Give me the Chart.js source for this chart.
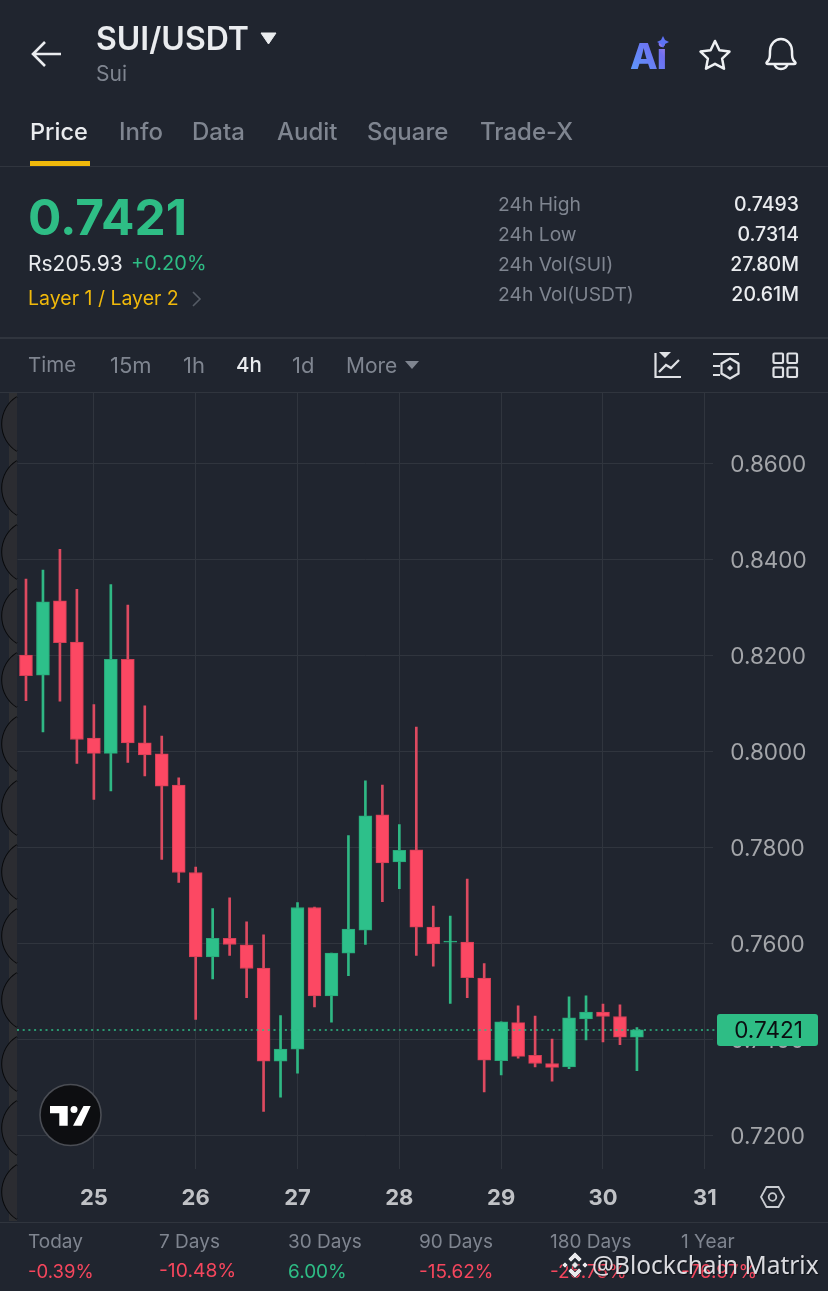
<!DOCTYPE html>
<html><head><meta charset="utf-8">
<script src="https://cdn.jsdelivr.net/npm/chart.js@4/dist/chart.umd.min.js"></script>
<style>
html,body{margin:0;padding:0;background:#20252f;width:828px;height:1291px;overflow:hidden}
body{position:relative;font-family:Inter,sans-serif}
canvas{position:absolute;left:0;top:0}
svg.layer{position:absolute;left:0;top:0;pointer-events:none}
.t{position:absolute;transform:translateY(-50%);white-space:nowrap;line-height:1}
.r{transform:translate(-100%,-50%)}
.g{color:#7f8590}.w{color:#eaecef}.up{color:#2ebd85}.dn{color:#f6465d}.y{color:#f0b90b}
.hr{position:absolute;left:0;width:828px;height:1px;background:#30353e}
</style></head><body>
<canvas id="c" width="828" height="1291"></canvas>
<svg class="layer" width="828" height="1291" viewBox="0 0 828 1291">
<defs><linearGradient id="ai" x1="0" y1="1" x2="1" y2="0"><stop offset="0" stop-color="#5aa0ff"/><stop offset=".7" stop-color="#6f6ff0"/><stop offset="1" stop-color="#c58ce0"/></linearGradient></defs>
<g id="scallops"></g>
<path d="M61 54H34M45 42L33 54L45 66" fill="none" stroke="#eaecef" stroke-width="2.6"/>
<path d="M261 33H276L268.500 44Z" fill="#eaecef" stroke="#eaecef" stroke-width="1" stroke-linejoin="round"/>
<text x="630" y="69" font-family="Inter" font-weight="800" font-size="36" fill="url(#ai)" letter-spacing="-1">Ai</text>
<path d="M663 36l2 4 4 2-4 2-2 4-2-4-4-2 4-2z" fill="#5d72f5"/>
<path d="M715 41l4.400 9.300 10.100 1.300-7.400 7 1.900 10.100-9-4.900-9 4.900 1.900-10.100-7.400-7 10.100-1.300z" fill="none" stroke="#eef0f3" stroke-width="2.500" stroke-linejoin="round"/>
<path d="M767 62c3-3 3-5 3-11a11 12 0 0 1 22 0c0 6 0 8 3 11c1 1 .5 2-1 2H768c-1.500 0-2-1-1-2zM774.500 64a6.500 5 0 0 0 13 0" fill="none" stroke="#eef0f3" stroke-width="2.500"/>
<path d="M193 292l7 7-7 7" fill="none" stroke="#555b65" stroke-width="1.600"/>
<path d="M405 361H419L412 369Z" fill="#7f8590"/>
<g fill="none" stroke="#dfe1e5" stroke-width="2.200">
<path d="M655.500 353V377H681"/><path d="M659 372l7-7 5 3 8-8"/>
<path d="M713 354H739M713 366H720M713 375H720"/>
<path d="M730 358.500l8.500 5v10l-8.500 5-8.500-5v-10z"/>
<rect x="773.500" y="353.500" width="9.500" height="9.500" rx="1"/><rect x="787.500" y="353.500" width="9.500" height="9.500" rx="1"/>
<rect x="773.500" y="367.500" width="9.500" height="9.500" rx="1"/><rect x="787.500" y="367.500" width="9.500" height="9.500" rx="1"/>
</g>
<path d="M730 365l3 3-3 3-3-3z" fill="#dfe1e5"/>
<path d="M659 352h12l-6 6z" fill="#dfe1e5"/>
<circle cx="70.500" cy="1115" r="30.500" fill="#0d0e11" stroke="#4a4d54" stroke-width="1.600"/>
<path d="M50 1106H67.700V1125.700H59.300V1113.300H50ZM83.500 1106H90.700L81.500 1125.700H73Z" fill="#fff"/>
<circle cx="74" cy="1109.500" r="3.500" fill="#fff"/>
<path d="M761 1197l5.500-10h12l5.500 10-5.500 10h-12z" fill="none" stroke="#c9ccd1" stroke-width="1.800"/>
<circle cx="772.500" cy="1197" r="3.800" fill="none" stroke="#c9ccd1" stroke-width="1.800"/>
</svg>
<div class="hr" style="top:166px"></div><div class="hr" style="top:337px;height:2px"></div><div class="hr" style="top:392px"></div><div class="hr" style="top:1222px"></div>
<div style="position:absolute;left:30px;top:161px;width:60px;height:5px;background:#f0b90b"></div>
<div id="txt"></div>
<svg class="layer" width="828" height="1291" viewBox="0 0 828 1291">
<g transform="translate(575 1265)" fill="#e8e9ec" stroke="#20252f" stroke-width=".6"><path d="M0-13l7 7-3 3-4-4-4 4-3-3zM-13 0l3-3 3 3-3 3zM13 0l-3 3-3-3 3-3zM0 13l-7-7 3-3 4 4 4-4 3 3zM0-3.500L3.500 0 0 3.500-3.500 0z"/></g>
</svg>
<script>
const candleTimes=["24 08:00","24 12:00","24 16:00","24 20:00","25 00:00","25 04:00","25 08:00","25 12:00","25 16:00","25 20:00","26 00:00","26 04:00","26 08:00","26 12:00","26 16:00","26 20:00","27 00:00","27 04:00","27 08:00","27 12:00","27 16:00","27 20:00","28 00:00","28 04:00","28 08:00","28 12:00","28 16:00","28 20:00","29 00:00","29 04:00","29 08:00","29 12:00","29 16:00","29 20:00","30 00:00","30 04:00","30 08:00","30 12:00","30 16:00","30 20:00","31 00:00"];
const opens=[0.8202,0.8160,0.8315,0.8229,0.8029,0.7997,0.8193,0.8019,0.7996,0.7931,0.7749,0.7573,0.7612,0.7598,0.7550,0.7356,0.7381,0.7676,0.7492,0.7581,0.7629,0.7869,0.7771,0.7796,0.7635,0.7604,0.7604,0.7529,0.7357,0.7436,0.7368,0.7351,0.7344,0.7444,0.7458,0.7449,0.7406];
const highs=[0.8360,0.8379,0.8422,0.8339,0.8099,0.8349,0.8306,0.8096,0.8033,0.7946,0.7760,0.7674,0.7696,0.7646,0.7619,0.7451,0.7686,0.7677,0.7581,0.7826,0.7940,0.7931,0.7849,0.8052,0.7679,0.7658,0.7735,0.7559,0.7438,0.7471,0.7450,0.7402,0.7490,0.7492,0.7475,0.7473,0.7426];
const lows=[0.8107,0.8042,0.8106,0.7976,0.7901,0.7919,0.7978,0.7950,0.7776,0.7728,0.7443,0.7527,0.7576,0.7488,0.7251,0.7281,0.7331,0.7469,0.7437,0.7534,0.7599,0.7688,0.7715,0.7576,0.7554,0.7476,0.7488,0.7292,0.7327,0.7362,0.7344,0.7314,0.7340,0.7400,0.7396,0.7390,0.7336];
const closes=[0.8159,0.8313,0.8228,0.8026,0.7997,0.8193,0.8019,0.7994,0.7929,0.7749,0.7573,0.7612,0.7599,0.7549,0.7356,0.7381,0.7676,0.7492,0.7581,0.7631,0.7867,0.7769,0.7795,0.7635,0.7600,0.7606,0.7530,0.7358,0.7438,0.7366,0.7351,0.7343,0.7446,0.7458,0.7449,0.7406,0.7421];
const lastPrice=0.7421;
const priceTicks=[0.72,0.74,0.76,0.78,0.80,0.82,0.84,0.86];

const headerTexts=[
["SUI/USDT",96,39,"32px",600,"w"],["Sui",96,73,"21px",400,"g"],
["Price",30,132,"23.500px",500,"w"],["Info",119,132,"24px",500,"g"],["Data",192,132,"24px",500,"g"],["Audit",277,132,"24px",500,"g"],["Square",367,132,"24px",500,"g"],["Trade-X",480,132,"24px",500,"g"],
["0.7421",28,218,"49.500px",700,"up"],["Rs205.93",28,263,"21px",400,"w"],["+0.20%",131,263,"20px",400,"up"],["Layer 1 / Layer 2",28,299,"19.500px",400,"y"],
["24h High",498,205,"19.300px",400,"g"],["24h Low",498,235,"19.300px",400,"g"],["24h Vol(SUI)",498,265,"19.300px",400,"g"],["24h Vol(USDT)",498,295,"19.300px",400,"g"],
["Time",28,365,"20.500px",400,"g"],["15m",110,365,"22px",400,"g"],["1h",183,365,"22px",400,"g"],["4h",236,365,"20.500px",500,"w"],["1d",292,365,"22px",400,"g"],["More",346,365,"21px",400,"g"],
["Today",28,1241,"19px",400,"g"],["7 Days",159,1241,"19px",400,"g"],["30 Days",288,1241,"19px",400,"g"],["90 Days",419,1241,"19px",400,"g"],["180 Days",550,1241,"19px",400,"g"],["1 Year",681,1241,"19px",400,"g"],
["-0.39%",28,1271,"18.500px",400,"dn"],["-10.48%",159,1271,"19.300px",400,"dn"],["6.00%",288,1271,"19px",400,"up"],["-15.62%",419,1271,"19px",400,"dn"],["-25.75%",550,1271,"19px",400,"dn"],["-76.97%",681,1271,"19px",400,"dn"]
];
const statValues=[["0.7493",205],["0.7314",235],["27.80M",265],["20.61M",295]];
const box=document.getElementById('txt');
function addText(s,x,y,size,w,cls,right){const d=document.createElement('div');d.className='t '+cls+(right?' r':'');d.textContent=s;d.style.left=x+'px';d.style.top=y+'px';d.style.fontSize=size;d.style.fontWeight=w;box.appendChild(d);return d;}
headerTexts.forEach(a=>addText(...a));
statValues.forEach(([s,y])=>addText(s,799,y,"19.500px",500,"w",true));
const wm=addText("@Blockchain Matrix",592,1265,"24.500px",400,"w");wm.style.fontFamily='"Noto Sans"';wm.style.color='rgba(235,236,240,.92)';wm.style.textShadow='1px 1px 1px rgba(0,0,0,.5)';wm.style.zIndex=5;

let arcs='';for(let cy=424;cy<=1192;cy+=64){arcs+=`<path d="M17 ${cy-27}A32 32 0 0 0 17 ${cy+27}" fill="none" stroke="#08090b" stroke-width="2"/><path d="M17 ${cy-27}A32 32 0 0 0 17 ${cy+27}Z" fill="#2b2c31"/>`;}
document.getElementById('scallops').innerHTML='<rect x="9" y="393" width="8" height="828" fill="#2f3033"/>'+arcs;

const UP='#2dc08a',DOWN='#fc4863',UPW='#2fb884',DOWNW='#dd4a60';
const isUp=i=>closes[i]>=opens[i];
const bodies=opens.map((o,i)=>[o,closes[i]]);
const wicks=lows.map((l,i)=>[l,highs[i]]);

const labelNudge={id:'labelNudge',beforeDraw(ch){const s=ch.scales.y;if(s.$nudged)return;s.$nudged=true;
 s.getLabelItems(ch.chartArea).forEach(it=>{it.options.translation=[it.options.translation[0],it.options.translation[1]+1.500];});}};
const priceLine={id:'priceLine',afterDraw(ch){const c=ch.ctx,y=ch.scales.y.getPixelForValue(lastPrice);
 c.save();c.strokeStyle='#2ebd85';c.lineWidth=1.500;c.setLineDash([2,3.700]);c.beginPath();c.moveTo(17,y);c.lineTo(715,y);c.stroke();c.setLineDash([]);
 c.fillStyle='#2ebd85';c.beginPath();c.roundRect(717,y-16,101,32,3);c.fill();
 c.fillStyle='#0b0e11';c.font='22.500px Inter';c.textAlign='center';c.textBaseline='middle';c.fillText(lastPrice.toFixed(4),768.500,y+1.500);c.restore();}};

new Chart(document.getElementById('c'),{type:'bar',
 data:{labels:candleTimes,datasets:[
  {label:'Body',data:bodies,grouped:false,barThickness:13,borderWidth:1,borderSkipped:false,
   backgroundColor:c=>isUp(c.dataIndex)?UP:DOWN,borderColor:c=>isUp(c.dataIndex)?'#28a879':'#d43f56'},
  {label:'Wick',data:wicks,grouped:false,barThickness:2,borderWidth:0,
   backgroundColor:c=>isUp(c.dataIndex)?UPW:DOWNW}
 ]},
 options:{responsive:false,animation:false,devicePixelRatio:1,
  layout:{padding:{left:17.500,top:393,right:0,bottom:0}},
  plugins:{legend:{display:false},tooltip:{enabled:false}},
  scales:{
   x:{type:'category',offset:true,border:{display:false},
    grid:{offset:false,drawTicks:false,lineWidth:1,color:c=>{const l=candleTimes[c.index];return l&&l.endsWith('00:00')?'#30353e':'rgba(0,0,0,0)';}},
    afterFit:s=>{s.height=122;},
    ticks:{autoSkip:false,maxRotation:0,padding:16,color:'#c0c2c6',font:{family:'Inter',size:22,weight:'700'},
     callback:function(v,i){const l=candleTimes[i];return l.endsWith('00:00')?l.slice(0,2):'';}}},
   y:{position:'right',min:0.71312,max:0.87479,border:{display:false},
    grid:{drawTicks:false,color:'#30353e',lineWidth:1},
    afterFit:s=>{s.width=114.700;},
    afterBuildTicks:s=>{s.ticks=priceTicks.map(v=>({value:v}));},
    ticks:{padding:17,color:'#a4a6aa',font:{family:'Inter',size:22.500},callback:v=>Number(v).toFixed(4)}}
  }},
 plugins:[labelNudge,priceLine]});
</script>
</body></html>
